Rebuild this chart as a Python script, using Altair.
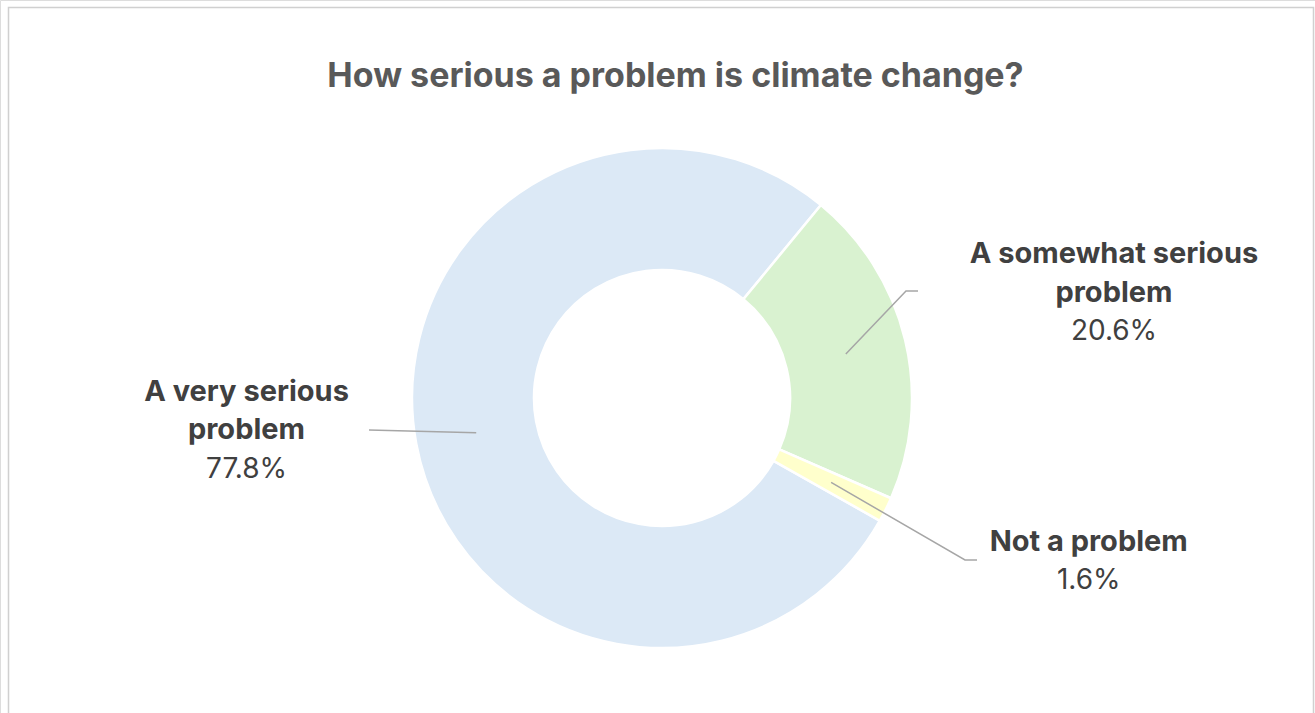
import math
import altair as alt
import pandas as pd

# ---------------- data ----------------
categories = ["A very serious problem", "A somewhat serious problem", "Not a problem"]
shares = [77.8, 20.6, 1.6]
label_lines = [["A very serious", "problem"], ["A somewhat serious", "problem"], ["Not a problem"]]
colors = ["#DCE9F6", "#D9F2D0", "#FFFFCC"]
title_text = "How serious a problem is climate change?"

# ---------------- layout ----------------
W, H = 1315, 713
CX, CY = 662, 398
R_OUT, R_IN = 250, 128
START_DEG = 119.4          # first slice begins here (clockwise from 12 o'clock)
FONT = "Inter"
LABEL_SIZE = 29
PCT_SIZE = 28
TITLE_SIZE = 34
LINE_STEP = 38.5
# label block anchors: (centre x, first baseline y)
label_anchor = [(246.5, 400.7), (1114.0, 263.3), (1088.7, 550.7)]
# leader line waypoints after the slice point
leader_tail = [[(369, 430)], [(906, 291), (918, 291)], [(965, 560), (977, 560)]]

start_rad = math.radians(START_DEG)

df = pd.DataFrame({"category": categories, "share": shares, "idx": list(range(len(categories)))})

xs = alt.Scale(domain=[0, W])
ys = alt.Scale(domain=[0, H], reverse=True)

arc = alt.Chart(df).mark_arc(
    outerRadius=R_OUT, innerRadius=R_IN, stroke="white", strokeWidth=2.5
).encode(
    theta=alt.Theta("share:Q", stack=True,
                    scale=alt.Scale(domain=[0, 100], range=[start_rad, start_rad + 2 * math.pi])),
    color=alt.Color("category:N", scale=alt.Scale(domain=categories, range=colors), legend=None),
    order=alt.Order("idx:Q"),
    x=alt.value(CX),
    y=alt.value(CY),
)

# leader lines: start at ring mid-radius on each slice's mid-angle
r_mid = (R_OUT + R_IN) / 2
rows = []
cum = 0.0
for i, (cat, s) in enumerate(zip(categories, shares)):
    mid = math.radians(START_DEG + 3.6 * (cum + s / 2))
    cum += s
    pts = [(CX + r_mid * math.sin(mid), CY - r_mid * math.cos(mid))] + leader_tail[i]
    for k, (px, py) in enumerate(pts):
        rows.append({"category": cat, "k": k, "px": px, "py": py})
leader_df = pd.DataFrame(rows)

leaders = alt.Chart(leader_df).mark_line(color="#A6A6A6", strokeWidth=1.5).encode(
    x=alt.X("px:Q", scale=xs, axis=None),
    y=alt.Y("py:Q", scale=ys, axis=None),
    detail="category:N",
    order="k:Q",
)

name_rows, pct_rows = [], []
for i, cat in enumerate(categories):
    ax, ay = label_anchor[i]
    for j, t in enumerate(label_lines[i]):
        name_rows.append({"t": t, "px": ax, "py": ay + j * LINE_STEP})
    pct_rows.append({"t": f"{shares[i]:.1f}%", "px": ax, "py": ay + len(label_lines[i]) * LINE_STEP})

names = alt.Chart(pd.DataFrame(name_rows)).mark_text(
    font=FONT, fontSize=LABEL_SIZE, fontWeight="bold", color="#404040",
    align="center", baseline="alphabetic"
).encode(x=alt.X("px:Q", scale=xs, axis=None), y=alt.Y("py:Q", scale=ys, axis=None), text="t:N")

pcts = alt.Chart(pd.DataFrame(pct_rows)).mark_text(
    font=FONT, fontSize=PCT_SIZE, fontWeight="normal", color="#404040",
    align="center", baseline="alphabetic"
).encode(x=alt.X("px:Q", scale=xs, axis=None), y=alt.Y("py:Q", scale=ys, axis=None), text="t:N")

title = alt.Chart(pd.DataFrame({"t": [title_text]})).mark_text(
    font=FONT, fontSize=TITLE_SIZE, fontWeight="bold", color="#595959",
    align="center", baseline="alphabetic"
).encode(x=alt.value(675.5), y=alt.value(86.7), text="t:N")

border = alt.Chart(pd.DataFrame({"a": [0]})).mark_rect(
    filled=False, stroke="#D0D0D0", strokeWidth=1.5
).encode(x=alt.value(8.5), x2=alt.value(1313.5), y=alt.value(7.5), y2=alt.value(740))

chart = alt.layer(border, arc, leaders, names, pcts, title).properties(
    width=W, height=H, padding=0,
    autosize=alt.AutoSizeParams(type="none"),
).configure_view(stroke=None).configure(background="white")

chart.save("out.html", embed_options={"renderer": "svg", "actions": False})
